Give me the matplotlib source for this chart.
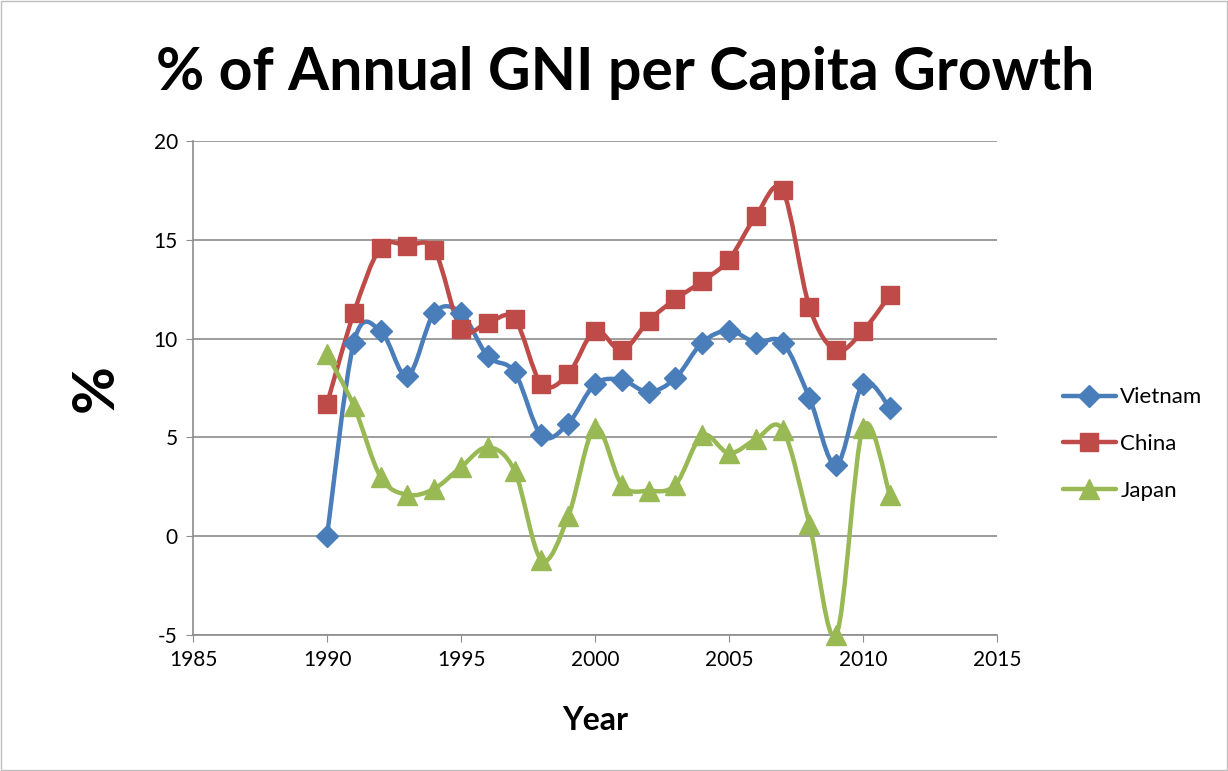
import numpy as np
import matplotlib.pyplot as plt
from matplotlib.path import Path
from matplotlib.patches import PathPatch
from matplotlib.lines import Line2D

years = list(range(1990, 2012))
vietnam = [0.0, 9.8, 10.4, 8.1, 11.3, 11.3, 9.1, 8.3, 5.1, 5.7, 7.7, 7.9,
           7.3, 8.0, 9.8, 10.4, 9.8, 9.8, 7.0, 3.6, 7.7, 6.5]
china = [6.7, 11.3, 14.6, 14.7, 14.5, 10.5, 10.8, 11.0, 7.7, 8.2, 10.4, 9.4,
         10.9, 12.0, 12.9, 14.0, 16.2, 17.5, 11.6, 9.4, 10.4, 12.2]
japan = [9.2, 6.6, 3.0, 2.1, 2.4, 3.5, 4.5, 3.3, -1.2, 1.0, 5.5, 2.6,
         2.3, 2.6, 5.1, 4.2, 4.9, 5.4, 0.6, -5.0, 5.5, 2.1]

plt.rcParams['font.family'] = ['Lato', 'DejaVu Sans']
plt.rcParams['axes.unicode_minus'] = False


def smooth_path(x, y):
    # Excel-style smoothed line: Catmull-Rom tangents as cubic Bezier controls
    x = np.asarray(x, float)
    y = np.asarray(y, float)
    pts = np.column_stack([x, y])
    verts = [pts[0]]
    codes = [Path.MOVETO]
    n = len(pts)
    for i in range(n - 1):
        p0 = pts[i - 1] if i > 0 else pts[i]
        p1 = pts[i]
        p2 = pts[i + 1]
        p3 = pts[i + 2] if i + 2 < n else pts[i + 1]
        c1 = p1 + (p2 - p0) / 6.0
        c2 = p2 - (p3 - p1) / 6.0
        verts += [c1, c2, p2]
        codes += [Path.CURVE4] * 3
    return Path(verts, codes)


fig = plt.figure(figsize=(12.28, 7.71), dpi=100)
ax = fig.add_axes([0.1572, 0.1764, 0.6547, 0.6407])

series = [
    ('Vietnam', vietnam, '#4A7EBB', 'D', 11.5),
    ('China', china, '#BE4B48', 's', 13),
    ('Japan', japan, '#98B954', '^', 14),
]
handles = []
for name, vals, col, mk, ms in series:
    ax.add_patch(PathPatch(smooth_path(years, vals), facecolor='none',
                           edgecolor=col, lw=3.2, capstyle='round',
                           joinstyle='round', zorder=3))
    ax.plot(years, vals, linestyle='none', marker=mk, ms=ms, color=col,
            zorder=4, clip_on=False)
    handles.append(Line2D([], [], color=col, lw=3.2, marker=mk, ms=ms,
                          solid_capstyle='round'))

ax.set_xlim(1985, 2015)
ax.set_ylim(-5, 20)
ax.set_xticks(range(1985, 2016, 5))
ax.set_yticks(range(-5, 21, 5))
ax.yaxis.grid(True, color='#8C8C8C', lw=1.2)
ax.set_axisbelow(True)
for s in ['top', 'right']:
    ax.spines[s].set_visible(False)
for s in ['left', 'bottom']:
    ax.spines[s].set_color('#8C8C8C')
    ax.spines[s].set_linewidth(1.2)
ax.tick_params(axis='both', direction='out', length=5, color='#8C8C8C',
               labelsize=15, pad=6)

ax.set_xlabel('Year', fontsize=23, fontweight='bold', labelpad=26)
ax.set_ylabel('%', fontsize=42, fontweight='bold', labelpad=22)
fig.suptitle('% of Annual GNI per Capita Growth', fontsize=42.5,
             fontweight='bold', x=0.509, y=0.94)

fig.legend(handles, [s[0] for s in series], loc='center left',
           bbox_to_anchor=(0.849, 0.424), frameon=False, fontsize=16,
           handlelength=2.4, labelspacing=1.2, handletextpad=0.2)

fig.patches.append(plt.Rectangle((0.001, 0.001), 0.998, 0.998,
                                 transform=fig.transFigure, fill=False,
                                 edgecolor='#BFBFBF', lw=1))

fig.savefig('out.png', dpi=100)
